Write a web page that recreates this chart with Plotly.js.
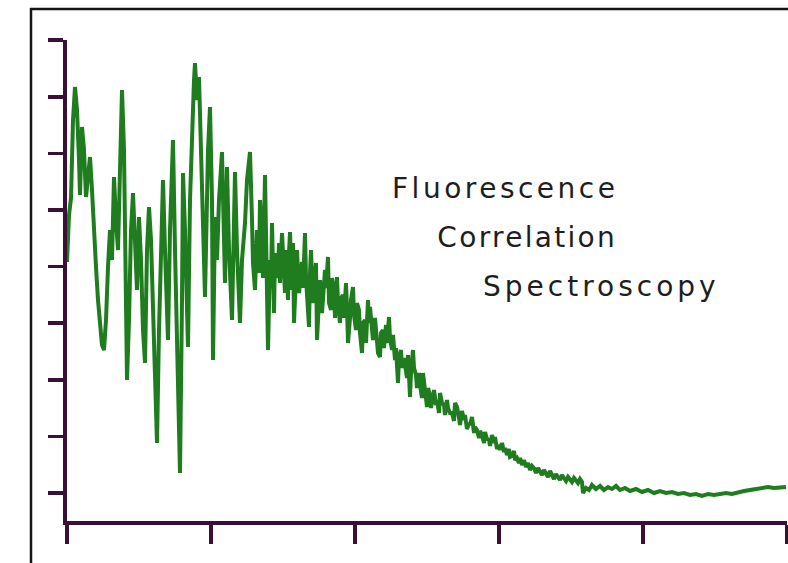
<!DOCTYPE html>
<html>
<head>
<meta charset="utf-8">
<script src="https://cdn.plot.ly/plotly-3.0.1.min.js"></script>
<style>
html,body{margin:0;padding:0;background:#fff;}
#chart{width:788px;height:563px;}
g.annotation[data-index="0"] .annotation-text{letter-spacing:3.5px;}
g.annotation[data-index="1"] .annotation-text{letter-spacing:2.3px;}
g.annotation[data-index="2"] .annotation-text{letter-spacing:4.0px;}
</style>
</head>
<body>
<div id="chart"></div>
<script>
// Lag time (arbitrary units) and correlation amplitude
var lag = [0,2,4,6,8,10,12,13,15,17,19,21,23,25,27,29,31,33,35,37,39,41,43,45,47,49,51,53,55,57,58,60,62,64,66,68,70,72,74,76,78,80,82,84,86,88,90,92,94,96,98,100,101,103,105,106,108,110,112,113,115,116,118,120,121,123,125,127,128,130,132,134,136,138,140,141,143,145,146,148,150,152,155,157,158,160,162,165,167,168,170,173,175,178,180,183,
  185,186,188,189,190,192,193,195,196,198,199,200,201,203,204,205,207,208,209,211,212,213,215,216,218,219,221,222,223,225,226,227,229,230,232,233,
  235,236,238,239,240,242,243,244,246,247,249,250,252,253,255,256,258,259,261,262,264,265,267,268,270,271,273,
  274,276,277,279,280,281,283,284,286,287,289,290,292,293,295,296,298,299,301,302,303,305,306,308,309,311,313,314,316,317,319,320,322,323,325,326,328,329,331,332,
  334,335,337,338,340,341,343,344,346,347,349,350,352,353,355,356,358,360,361,363,364,366,367,369,370,372,373,375,377,378,380,381,383,
  385,387,388,390,392,393,395,397,398,400,402,403,405,407,408,410,412,413,415,417,418,420,422,423,425,427,428,430,432,433,435,437,438,440,442,443,445,447,448,450,452,453,
  455,457,459,461,463,465,467,469,471,473,475,477,479,481,483,485,487,489,491,493,495,497,499,501,503,505,507,509,511,513,515,
  516,519,522,525,529,533,537,541,545,549,553,558,563,569,575,581,587,593,599,605,611,617,623,629,635,641,647,653,659,665,671,677,683,689,695,701,707,713,719];

var corr = [231,278,295,373,406,383,333,298,366,343,296,318,336,303,253,226,193,163,148,143,173,226,263,233,316,273,243,323,403,343,243,113,173,263,300,243,203,276,233,163,130,243,286,253,193,123,50,163,263,313,243,193,153,263,333,353,243,143,53,20,193,320,263,193,146,293,373,413,430,393,416,343,243,196,293,343,386,293,133,276,233,293,341,263,210,326,243,173,293,321,243,170,233,270,313,341,
  273,230,203,250,263,220,293,253,215,318,260,233,143,233,205,270,180,240,233,215,250,210,260,233,200,243,193,240,261,203,250,170,220,243,200,213,
  231,205,260,215,193,166,220,243,190,203,230,153,200,213,180,193,223,205,236,190,183,215,203,175,216,190,170,
  195,198,175,210,185,150,175,193,206,178,163,190,183,160,140,170,173,150,193,170,186,165,153,175,163,140,136,160,163,145,168,150,176,155,143,158,133,145,110,135,
  143,125,135,128,115,138,96,120,143,125,118,105,120,108,95,120,100,86,105,98,85,100,103,88,93,80,100,90,88,78,93,85,80,
  80,72,90,86,75,68,82,73,78,64,70,68,76,60,66,63,55,62,58,50,61,54,53,47,58,50,56,44,48,43,50,41,45,38,44,36,37,42,33,35,30,35,
  28,33,26,30,23,27,25,20,25,21,18,23,20,16,22,18,14,19,16,13,18,15,12,16,14,11,15,13,10,14,11,
  0,5,3,8,4,7,3,6,4,7,3,5,2,4,1,3,0,2,0,1,-1,0,-2,-1,-3,-1,-2,-1,0,-1,1,2,3,4,5,6,5,6,6];

var xTicks = [0,144,288,432,576,720];
var yTicks = [0,56.6,113.2,169.8,226.4,283,339.6,396.2,452.8];

var titleLines = ["Fluorescence","Correlation","Spectroscopy"];
var titleX = [344,381,438];
var titleY = [305,256,207];

var axisColor = "#3a1036";

var trace = {
  x: lag, y: corr, type: "scatter", mode: "lines",
  line: {color: "#1f7d1f", width: 4},
  hoverinfo: "skip"
};

var annotations = titleLines.map(function(t,i){
  return {x: titleX[i], y: titleY[i], xref:"x", yref:"y", text:t, showarrow:false,
          xanchor:"left", yanchor:"middle",
          font:{family:"DejaVu Sans", size:28, color:"#1e1e1e"}};
});

var layout = {
  width: 788, height: 563,
  margin: {l:67, r:1, t:40, b:42, pad:0},
  paper_bgcolor: "#ffffff", plot_bgcolor: "#ffffff",
  showlegend: false,
  xaxis: {range:[0,720], tickmode:"array", tickvals:xTicks, showticklabels:false,
          ticks:"outside", ticklen:19, tickwidth:3.5, tickcolor:axisColor,
          showline:true, linecolor:axisColor, linewidth:4, showgrid:false, zeroline:false},
  yaxis: {range:[-28,453], tickmode:"array", tickvals:yTicks, showticklabels:false,
          ticks:"outside", ticklen:15, tickwidth:3.5, tickcolor:axisColor,
          showline:true, linecolor:axisColor, linewidth:4, showgrid:false, zeroline:false},
  annotations: annotations,
  shapes: [{type:"rect", xref:"paper", yref:"paper", x0:-0.05, x1:1.2, y0:-0.3, y1:1.0644,
            line:{color:"#151515", width:2.5}, fillcolor:"rgba(0,0,0,0)", layer:"above"}]
};

Plotly.newPlot("chart", [trace], layout, {displayModeBar:false, staticPlot:true});
</script>
</body>
</html>
